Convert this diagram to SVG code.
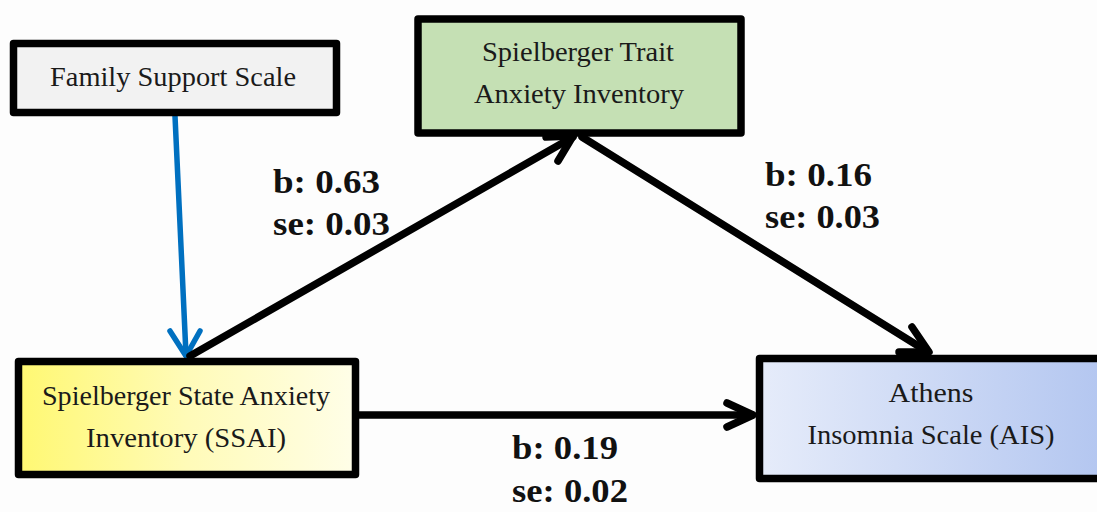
<svg xmlns="http://www.w3.org/2000/svg" width="1097" height="512" viewBox="0 0 1097 512">
<defs>
<linearGradient id="gYellow" x1="0" y1="0" x2="1" y2="0">
<stop offset="0" stop-color="#fff872"/>
<stop offset="0.5" stop-color="#fffbb8"/>
<stop offset="1" stop-color="#fffee8"/>
</linearGradient>
<linearGradient id="gBlue" x1="0" y1="0" x2="1" y2="0">
<stop offset="0" stop-color="#e6ecfa"/>
<stop offset="1" stop-color="#b3c6f0"/>
</linearGradient>
<style>
.box{stroke:#000;stroke-width:7.5;stroke-linejoin:round}
.nt{font-family:"Liberation Serif","Times New Roman",serif;font-size:28px;fill:#1a1a1a;text-anchor:middle}
.lb{font-family:"Liberation Serif","Times New Roman",serif;font-size:34px;font-weight:bold;fill:#111}
.blk{stroke:#000;stroke-width:7.5;fill:none;stroke-linecap:round;stroke-linejoin:round}
.blu{stroke:#0070c0;stroke-width:5.5;fill:none;stroke-linecap:round;stroke-linejoin:round}
</style>
</defs>
<rect width="1097" height="512" fill="#fdfdfd"/>
<g id="connectors">
<line class="blu" x1="175" y1="116" x2="186" y2="355"/>
<polyline class="blu" points="170,331 186,356 200,331"/>
<line class="blk" x1="190" y1="356" x2="573" y2="137"/>
<polyline class="blk" points="546,137 573,136 558,161"/>
<line class="blk" x1="582" y1="137" x2="928" y2="352"/>
<polyline class="blk" points="912,327 929,352 899,352"/>
<line class="blk" x1="359" y1="415" x2="752" y2="415"/>
<polyline class="blk" points="727,403 753,415 727,427"/>
</g>
<g id="family">
<rect class="box" x="13.5" y="43.5" width="323" height="69" fill="#f2f2f2"/>
<text class="nt" x="173" y="86" textLength="246" lengthAdjust="spacingAndGlyphs">Family Support Scale</text>
</g>
<g id="trait">
<rect class="box" x="418" y="19" width="323" height="114" fill="#c5e0b4"/>
<text class="nt" x="578" y="61" textLength="192" lengthAdjust="spacingAndGlyphs">Spielberger Trait</text>
<text class="nt" x="579" y="103" textLength="210" lengthAdjust="spacingAndGlyphs">Anxiety Inventory</text>
</g>
<g id="ssai">
<rect class="box" x="18.5" y="361.5" width="337" height="113" fill="url(#gYellow)"/>
<text class="nt" x="186" y="405" textLength="288" lengthAdjust="spacingAndGlyphs">Spielberger State Anxiety</text>
<text class="nt" x="186" y="447" textLength="200" lengthAdjust="spacingAndGlyphs">Inventory (SSAI)</text>
</g>
<g id="ais">
<rect class="box" x="759.5" y="358.5" width="346" height="120" fill="url(#gBlue)"/>
<text class="nt" x="931" y="402" textLength="85" lengthAdjust="spacingAndGlyphs">Athens</text>
<text class="nt" x="931" y="444" textLength="247" lengthAdjust="spacingAndGlyphs">Insomnia Scale (AIS)</text>
</g>
<g id="labels">
<text class="lb" x="273" y="193" textLength="107" lengthAdjust="spacingAndGlyphs">b: 0.63</text>
<text class="lb" x="273" y="235" textLength="117" lengthAdjust="spacingAndGlyphs">se: 0.03</text>
<text class="lb" x="765" y="186" textLength="107" lengthAdjust="spacingAndGlyphs">b: 0.16</text>
<text class="lb" x="765" y="228" textLength="115" lengthAdjust="spacingAndGlyphs">se: 0.03</text>
<text class="lb" x="512" y="459" textLength="106" lengthAdjust="spacingAndGlyphs">b: 0.19</text>
<text class="lb" x="512" y="502" textLength="116" lengthAdjust="spacingAndGlyphs">se: 0.02</text>
</g>
</svg>
